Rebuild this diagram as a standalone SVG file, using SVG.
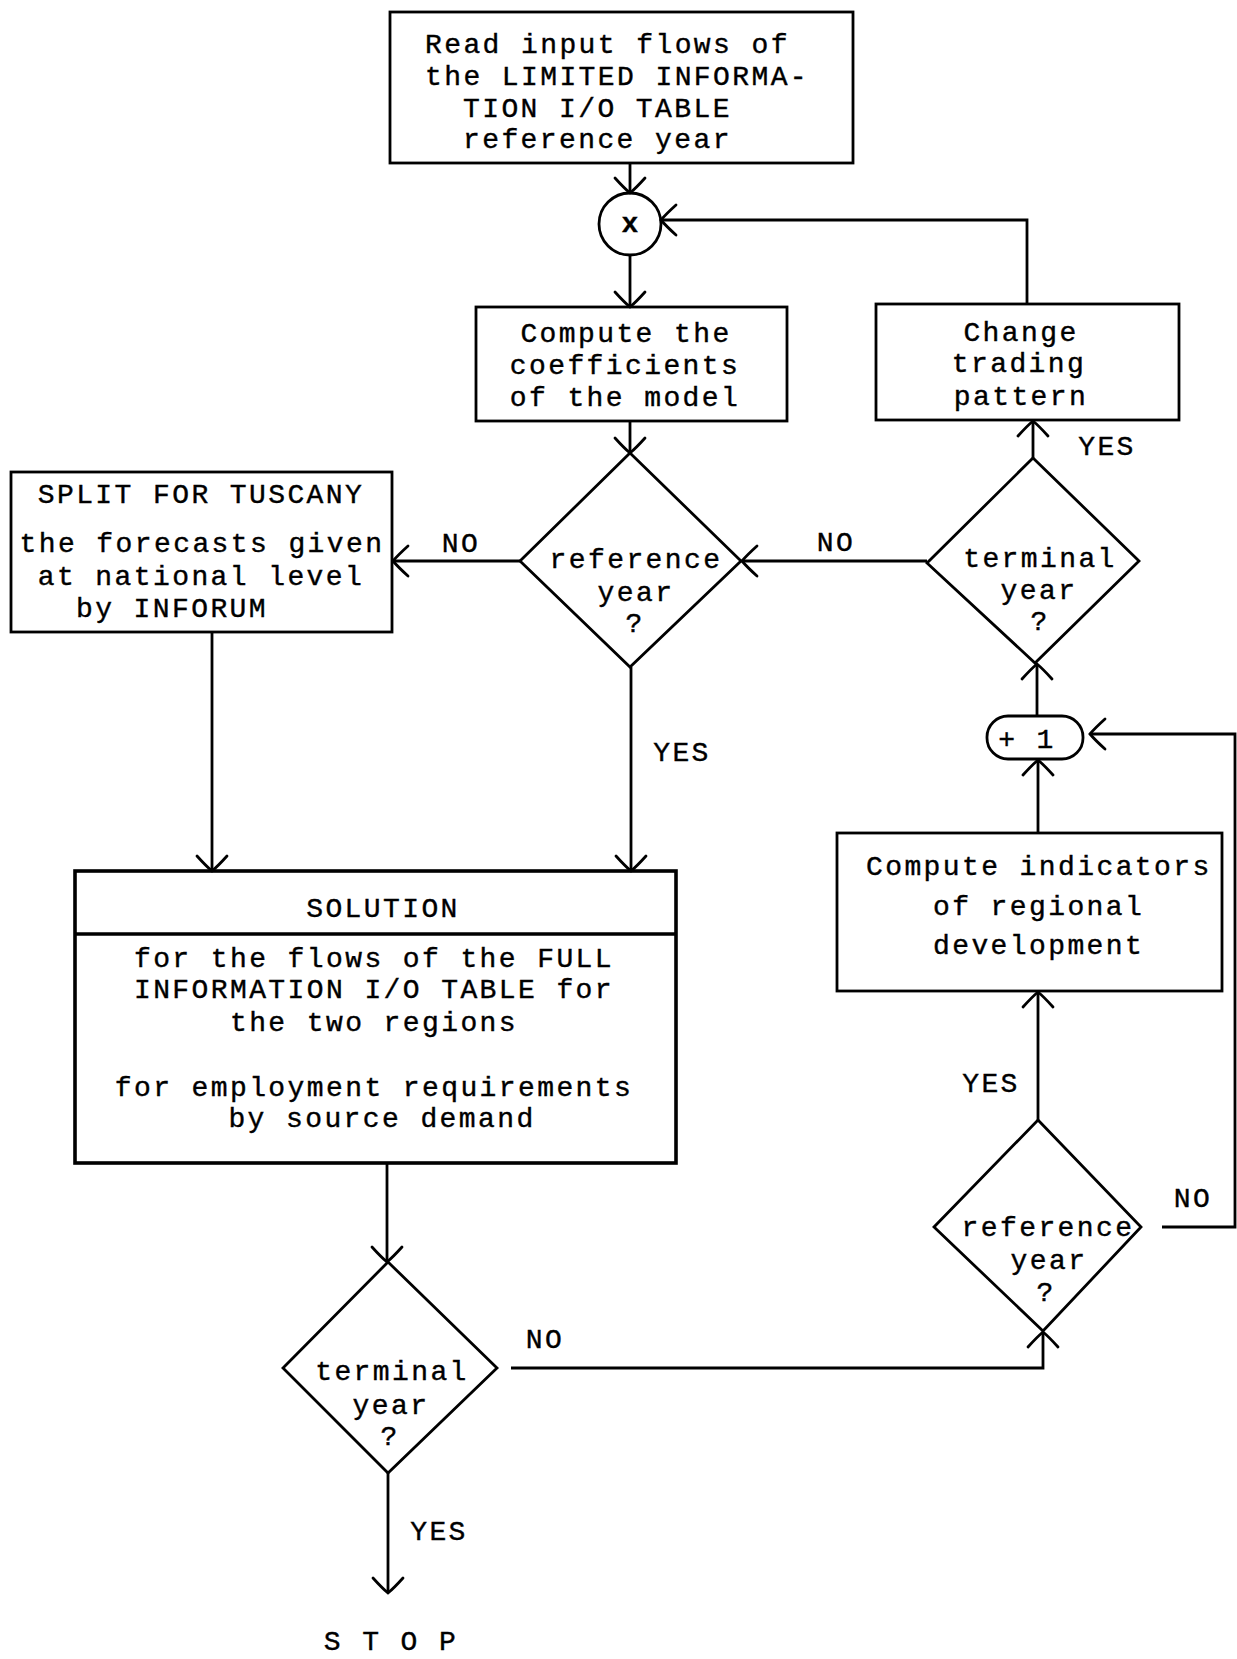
<svg xmlns="http://www.w3.org/2000/svg" width="1237" height="1659" viewBox="0 0 1237 1659">
<defs>
<style>
.box{fill:none;stroke:#000;stroke-width:2.8}
.thick{fill:none;stroke:#000;stroke-width:3.6}
.ln{fill:none;stroke:#000;stroke-width:2.8;marker-end:url(#arr)}
.t{font-family:"Liberation Mono","DejaVu Sans Mono",monospace;font-size:28px;letter-spacing:2.4px;fill:#000;stroke:#000;stroke-width:0.4}
.m{text-anchor:middle}
</style>
<marker id="arr" markerUnits="userSpaceOnUse" markerWidth="40" markerHeight="40" viewBox="-20 -20 40 40" refX="0" refY="0" orient="auto" overflow="visible">
<path d="M-15 -15 Q-5 -6 0 0 Q-5 6 -15 15" fill="none" stroke="#000" stroke-width="2.8" stroke-linecap="round"/>
</marker>
</defs>
<rect width="1237" height="1659" fill="#fff"/>

<g id="connectors">
<path class="ln" d="M630 163 V193"/>
<path class="ln" d="M630 255 V307"/>
<path class="ln" d="M630 421 V453"/>
<path class="ln" d="M520 561 H393"/>
<path class="ln" d="M631 667 V871"/>
<path class="ln" d="M212 632 V871"/>
<path class="ln" d="M387 1163 V1262"/>
<path class="ln" d="M388 1473 V1593"/>
<path class="ln" d="M511 1368 H1043 V1332"/>
<path class="ln" d="M1162 1227 H1235 V734 H1090"/>
<path class="ln" d="M1038 1120 V992"/>
<path class="ln" d="M1038 833 V760"/>
<path class="ln" d="M1037 716 V664"/>
<path class="ln" d="M927 561 H742"/>
<path class="ln" d="M1033 458 V421"/>
<path class="ln" d="M1027 304 V220 H661"/>
</g>

<g id="labels">
<text class="t m" x="461" y="552">NO</text>
<text class="t m" x="836" y="551">NO</text>
<text class="t m" x="1107" y="455">YES</text>
<text class="t m" x="682" y="761">YES</text>
<text class="t m" x="991" y="1092">YES</text>
<text class="t m" x="1193" y="1207">NO</text>
<text class="t m" x="545" y="1348">NO</text>
<text class="t m" x="439" y="1540">YES</text>
<text class="t m" x="391" y="1650">S T O P</text>
</g>

<g id="read-input">
<rect class="box" x="390" y="12" width="463" height="151"/>
<text class="t" x="425" y="53">Read input flows of</text>
<text class="t" x="425" y="85">the LIMITED INFORMA-</text>
<text class="t" x="463" y="117">TION I/O TABLE</text>
<text class="t" x="463" y="148">reference year</text>
</g>

<g id="connector-x">
<circle class="box" cx="630" cy="224" r="31"/>
<text class="t m" x="631" y="232" font-weight="bold">x</text>
</g>

<g id="compute-coefficients">
<rect class="box" x="476" y="307" width="311" height="114"/>
<text class="t m" x="626" y="342">Compute the</text>
<text class="t m" x="625" y="374">coefficients</text>
<text class="t m" x="625" y="406">of the model</text>
</g>

<g id="change-trading">
<rect class="box" x="876" y="304" width="303" height="116"/>
<text class="t m" x="1021" y="341">Change</text>
<text class="t m" x="1019" y="372">trading</text>
<text class="t m" x="1021" y="405">pattern</text>
</g>

<g id="reference-year-1">
<polygon class="box" points="630,453 741,561 630,667 520,561"/>
<text class="t m" x="636" y="568">reference</text>
<text class="t m" x="636" y="601">year</text>
<text class="t m" x="635" y="632">?</text>
</g>

<g id="terminal-year-1">
<polygon class="box" points="1033,458 1139,561 1035,663 927,563"/>
<text class="t m" x="1040" y="567">terminal</text>
<text class="t m" x="1039" y="599">year</text>
<text class="t m" x="1040" y="630">?</text>
</g>

<g id="split-tuscany">
<rect class="box" x="11" y="472" width="381" height="160"/>
<text class="t m" x="201" y="503">SPLIT FOR TUSCANY</text>
<text class="t m" x="202" y="552">the forecasts given</text>
<text class="t m" x="201" y="585">at national level</text>
<text class="t" x="76" y="617">by INFORUM</text>
</g>

<g id="plus-one">
<rect class="box" x="987" y="716" width="96" height="43" rx="21" ry="21"/>
<text class="t m" x="1027" y="748">+ 1</text>
</g>

<g id="compute-indicators">
<rect class="box" x="837" y="833" width="385" height="158"/>
<text class="t" x="866" y="875">Compute indicators</text>
<text class="t" x="933" y="915">of regional</text>
<text class="t" x="933" y="954">development</text>
</g>

<g id="solution">
<rect class="thick" x="75" y="871" width="601" height="292"/>
<line class="thick" x1="75" y1="934" x2="676" y2="934"/>
<text class="t m" x="383" y="917">SOLUTION</text>
<text class="t m" x="374" y="967">for the flows of the FULL</text>
<text class="t m" x="374" y="998">INFORMATION I/O TABLE for</text>
<text class="t m" x="374" y="1031">the two regions</text>
<text class="t m" x="374" y="1096">for employment requirements</text>
<text class="t m" x="382" y="1127">by source demand</text>
</g>

<g id="reference-year-2">
<polygon class="box" points="1038,1120 1141,1227 1043,1331 934,1227"/>
<text class="t m" x="1048" y="1236">reference</text>
<text class="t m" x="1049" y="1269">year</text>
<text class="t m" x="1046" y="1301">?</text>
</g>

<g id="terminal-year-2">
<polygon class="box" points="388,1262 497,1368 388,1473 283,1368"/>
<text class="t m" x="392" y="1380">terminal</text>
<text class="t m" x="391" y="1414">year</text>
<text class="t m" x="390" y="1445">?</text>
</g>
</svg>
